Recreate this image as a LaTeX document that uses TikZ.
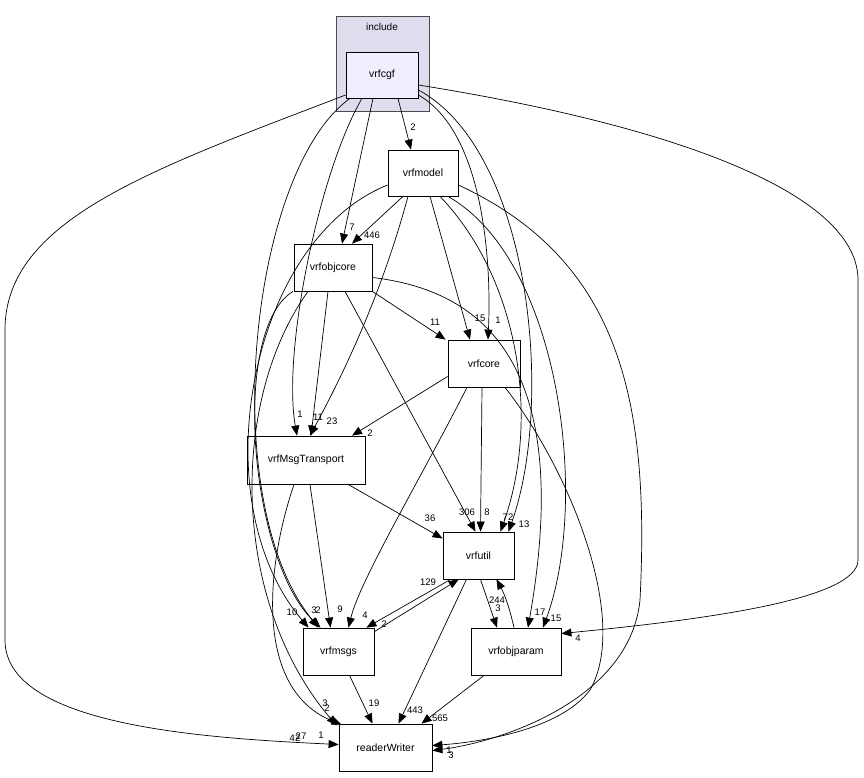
\documentclass[tikz,border=0pt]{standalone}
\usepackage{fontspec}
\setmainfont{Liberation Sans}
\usetikzlibrary{arrows.meta,calc}
\begin{document}
\begin{tikzpicture}[x=1pt,y=-1pt,
  box/.style={draw=black,line width=0.8pt,fill=white,font=\fontsize{10.5}{12}\selectfont,inner sep=0pt},
  e/.style={-{Triangle[length=10pt,width=8pt]},line width=0.7pt},
  lab/.style={font=\fontsize{9.5}{10}\selectfont,inner sep=0pt}]
\useasboundingbox (0,0) rectangle (864,777);
\node[draw=black!70,fill={rgb,255:red,221;green,221;blue,238},minimum width=93pt,minimum height=95pt,inner sep=0pt] (inc) at (382.5,63.5) {};
\node[lab,font=\fontsize{10}{12}\selectfont] (inclab) at (382,27) {include};
\node[box,fill={rgb,255:red,238;green,238;blue,255},minimum width=72pt,minimum height=46pt] (cgf) at (382,75) {vrfcgf};
\node[box,minimum width=70pt,minimum height=46pt] (model) at (423,173) {vrfmodel};
\node[box,minimum width=78pt,minimum height=47pt] (objcore) at (333,267.5) {vrfobjcore};
\node[box,minimum width=72pt,minimum height=47pt] (core) at (484,363.5) {vrfcore};
\node[box,minimum width=118pt,minimum height=48pt] (msgt) at (306,460) {vrfMsgTransport};
\node[box,minimum width=71pt,minimum height=47pt] (util) at (478.5,555.5) {vrfutil};
\node[box,minimum width=71pt,minimum height=47pt] (msgs) at (338.5,651.5) {vrfmsgs};
\node[box,minimum width=90pt,minimum height=47pt] (objparam) at (516,651.5) {vrfobjparam};
\node[box,minimum width=93pt,minimum height=47pt] (rw) at (385.5,747.5) {readerWriter};
% vrfcgf
\draw[e] ($(cgf.south)+(16,0)$) -- ($(model.north)+(-12,0)$);
\node[lab] (l1) at (413,127) {2};
\draw[e] ($(cgf.south)+(-9,0)$) -- ($(objcore.north)+(9,0)$);
\node[lab] (l2) at (352,227) {7};
\draw[e] ($(cgf.south)+(-20,0)$) .. controls (320,170) and (282,350) .. ($(msgt.north)+(-9,0)$);
\node[lab] (l3) at (300,414) {1};
\draw[e] ($(cgf.east)+(0,20)$) .. controls (480,130) and (492,250) .. ($(core.north)+(4,0)$);
\node[lab] (l4) at (498,320) {1};
\draw[e] ($(cgf.east)+(0,15)$) .. controls (530,150) and (555,400) .. ($(util.north)+(30,0)$);
\node[lab] (l5) at (524,524) {13};
\draw[e] ($(cgf.south)+(-32,0)$) .. controls (250,170) and (215,500) .. ($(msgs.north)+(-20,0)$);
\draw[e] ($(cgf.west)+(0,20)$) .. controls (150,170) and (5,220) .. (5,330) -- (5,640) .. controls (5,725) and (200,738) .. ($(rw.west)+(0,-3)$);
\node[lab] (l7) at (321,735) {1};
\draw[e] ($(cgf.east)+(0,10)$) .. controls (700,130) and (858,200) .. (858,280) -- (858,560) .. controls (858,600) and (700,620) .. ($(objparam.east)+(0,-18)$);
\node[lab] (l8) at (578,638) {4};
% vrfmodel
\draw[e] ($(model.south)+(-20,0)$) -- ($(objcore.north)+(19,0)$);
\node[lab] (m1) at (372,235) {446};
\draw[e] ($(model.south)+(-15,0)$) .. controls (380,300) and (340,380) .. ($(msgt.north)+(4,0)$);
\node[lab] (m2) at (332,421) {23};
\draw[e] ($(model.south)+(7,0)$) -- ($(core.north)+(-14,0)$);
\node[lab] (m3) at (480,318) {15};
\draw[e] ($(model.south)+(17,0)$) .. controls (520,280) and (540,420) .. ($(util.north)+(22,0)$);
\node[lab] (m4) at (508,517) {72};
\draw[e] ($(model.south)+(25,0)$) .. controls (560,260) and (590,500) .. ($(objparam.north)+(27,0)$);
\node[lab] (m5) at (556,618) {15};
\draw[e] ($(model.east)+(0,12)$) .. controls (620,260) and (650,400) .. (640,600) .. controls (630,700) and (500,742) .. ($(rw.east)+(0,3)$);
\node[lab] (m6) at (451,755) {3};
\draw[e] ($(model.west)+(0,12)$) .. controls (250,240) and (200,500) .. ($(msgs.north)+(-30,0)$);
\node[lab] (m7) at (292,612) {10};
% vrfobjcore
\draw[e] (objcore.south east) -- ($(core.north west)+(-2,0)$);
\node[lab] (o1) at (435,322) {11};
\draw[e] ($(objcore.south)+(-5,0)$) -- ($(msgt.north)+(5,0)$);
\node[lab] (o2) at (318,417) {11};
\draw[e] ($(objcore.south)+(12,0)$) -- ($(util.north)+(-3,0)$);
\node[lab] (o3) at (467,512) {306};
\draw[e] ($(objcore.east)+(0,10)$) .. controls (480,290) and (575,360) .. ($(objparam.north)+(12,0)$);
\node[lab] (o4) at (540,612) {17};
\draw[e] ($(objcore.south)+(-40,0)$) .. controls (230,330) and (250,560) .. ($(msgs.north)+(-18,0)$);
\node[lab] (o5) at (314,610) {3};
\node[lab] (o5b) at (318,610) {2};
\draw[e] ($(objcore.south)+(-25,0)$) .. controls (230,400) and (230,600) .. ($(rw.north west)+(-2,2)$);
\node[lab] (o6) at (295,738) {42};
\node[lab] (o7) at (325,703) {3};
\node[lab] (o8) at (327,708) {2};
% vrfcore
\draw[e] ($(core.west)+(0,13)$) -- ($(msgt.north)+(46,0)$);
\node[lab] (c1) at (370,433) {2};
\draw[e] ($(core.south)+(-2,0)$) -- ($(util.north)+(2,0)$);
\node[lab] (c2) at (487,512) {8};
\draw[e] ($(core.south)+(-17,0)$) .. controls (420,480) and (360,580) .. ($(msgs.north)+(10,0)$);
\node[lab] (c3) at (365,615) {4};
\draw[e] ($(core.south)+(21,0)$) .. controls (570,470) and (630,620) .. (590,690) .. controls (560,730) and (480,742) .. ($(rw.east)+(0,-2)$);
\node[lab] (c4) at (449,750) {1};
% vrfMsgTransport
\draw[e] ($(msgt.east)+(-18,24)$) -- ($(util.west)+(0,-17)$);
\node[lab] (t1) at (430,518) {36};
\draw[e] ($(msgt.south)+(4,0)$) -- ($(msgs.north)+(-8,0)$);
\node[lab] (t2) at (340,609) {9};
\draw[e] ($(msgt.south)+(-12,0)$) .. controls (265,570) and (255,690) .. ($(rw.north west)+(3,1)$);
\node[lab] (t3) at (301,736) {27};
% vrfutil
\draw[e] ($(util.south west)+(8,0)$) -- ($(msgs.north east)+(-8,0)$);
\node[lab] (u1) at (428,582) {129};
\draw[e] ($(msgs.north east)+(0,4)$) -- ($(util.south west)+(16,0)$);
\node[lab] (u2) at (384,624) {2};
\draw[e] ($(util.south)+(2,0)$) -- ($(objparam.north)+(-19,0)$);
\node[lab] (u3) at (497,600) {244};
\draw[e] ($(objparam.north)+(-2,0)$) .. controls (510,610) and (505,595) .. ($(util.south)+(18,0)$);
\node[lab] (u4) at (498,608) {3};
\draw[e] ($(util.south)+(-12,0)$) -- ($(rw.north)+(13,0)$);
\node[lab] (u5) at (415,710) {443};
% bottom
\draw[e] ($(msgs.south)+(11,0)$) -- ($(rw.north)+(-13,0)$);
\node[lab] (b1) at (374,703) {19};
\draw[e] ($(objparam.south)+(-32,0)$) -- ($(rw.north)+(36,0)$);
\node[lab] (b2) at (440,718) {565};
\end{tikzpicture}
\end{document}
